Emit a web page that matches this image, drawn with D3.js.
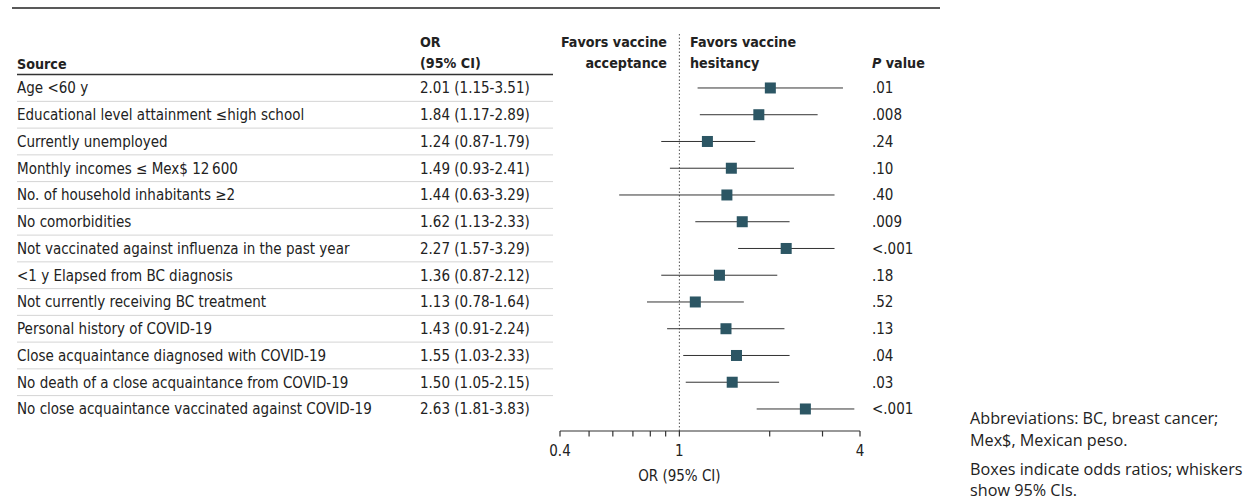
<!DOCTYPE html>
<html>
<head>
<meta charset="utf-8">
<script src="https://cdn.jsdelivr.net/npm/d3@7"></script>
<style>
  body { margin: 0; background: #fff; }
  svg text { font-family: "DejaVu Sans Condensed", "Liberation Sans Narrow", "Open Sans", sans-serif; font-stretch: condensed; fill: #222; }
  svg text.note { font-family: "Open Sans", sans-serif; font-stretch: normal; }
</style>
</head>
<body>
<div id="chart"></div>
<script>
// forest plot data
let sources = [
  "Age <60 y",
  "Educational level attainment \u2264high school",
  "Currently unemployed",
  "Monthly incomes \u2264 Mex$ 12\u2009600",
  "No. of household inhabitants \u22652",
  "No comorbidities",
  "Not vaccinated against influenza in the past year",
  "<1 y Elapsed from BC diagnosis",
  "Not currently receiving BC treatment",
  "Personal history of COVID-19",
  "Close acquaintance diagnosed with COVID-19",
  "No death of a close acquaintance from COVID-19",
  "No close acquaintance vaccinated against COVID-19"
];
let oddsRatios = [2.01, 1.84, 1.24, 1.49, 1.44, 1.62, 2.27, 1.36, 1.13, 1.43, 1.55, 1.50, 2.63];
let ciLow  = [1.15, 1.17, 0.87, 0.93, 0.63, 1.13, 1.57, 0.87, 0.78, 0.91, 1.03, 1.05, 1.81];
let ciHigh = [3.51, 2.89, 1.79, 2.41, 3.29, 2.33, 3.29, 2.12, 1.64, 2.24, 2.33, 2.15, 3.83];
let pValues = [".01", ".008", ".24", ".10", ".40", ".009", "<.001", ".18", ".52", ".13", ".04", ".03", "<.001"];
let majorTicks = [0.4, 1, 4];
let minorTicks = [0.5, 0.6, 0.7, 0.8, 0.9, 2, 3];
let footnotes = [
  "Abbreviations: BC, breast cancer;",
  "Mex$, Mexican peso.",
  "Boxes indicate odds ratios; whiskers",
  "show 95% CIs."
];

let rows = sources.map(function(s, i) {
  return {source: s, or: oddsRatios[i], lo: ciLow[i], hi: ciHigh[i], p: pValues[i]};
});

let width = 1252, height = 501;
let svg = d3.select("#chart").append("svg")
  .attr("width", width)
  .attr("height", height);

let x = d3.scaleLog().domain([0.4, 4]).range([560, 860]);
let y = d3.scaleBand().domain(d3.range(rows.length)).range([74.6, 74.6 + 26.75 * rows.length]);
let fmt = d3.format(".2f");
let fs = 15;

// top rule
svg.append("line")
  .attr("x1", 12).attr("x2", 940).attr("y1", 8).attr("y2", 8)
  .attr("stroke", "#222").attr("stroke-width", 1.5);

// column headers
let hdr = svg.append("g").attr("font-weight", "bold").attr("font-size", 14.2);
hdr.append("text").attr("x", 17).attr("y", 69).text("Source");
hdr.append("text").attr("x", 420).attr("y", 47).text("OR");
hdr.append("text").attr("x", 420).attr("y", 68).text("(95% CI)");
hdr.append("text").attr("x", 667).attr("y", 47).attr("text-anchor", "end").text("Favors vaccine");
hdr.append("text").attr("x", 667).attr("y", 68).attr("text-anchor", "end").text("acceptance");
hdr.append("text").attr("x", 690).attr("y", 47).text("Favors vaccine");
hdr.append("text").attr("x", 690).attr("y", 68).text("hesitancy");
let pv = hdr.append("text").attr("x", 872).attr("y", 68);
pv.append("tspan").attr("font-style", "italic").text("P");
pv.append("tspan").text(" value");

svg.append("line")
  .attr("x1", 17).attr("x2", 553).attr("y1", 74.6).attr("y2", 74.6)
  .attr("stroke", "#333").attr("stroke-width", 1.5);

// row separators
svg.append("g").selectAll("line")
  .data(d3.range(1, rows.length))
  .join("line")
    .attr("x1", 17).attr("x2", 553)
    .attr("y1", function(i) { return y(i); })
    .attr("y2", function(i) { return y(i); })
    .attr("stroke", "#d4d4d4").attr("stroke-width", 1);

// row text
let rowG = svg.append("g").attr("font-size", fs);
rowG.selectAll(".src")
  .data(rows)
  .join("text")
    .attr("x", 17)
    .attr("y", function(d, i) { return y(i) + y.bandwidth() / 2 + 5.5; })
    .text(function(d) { return d.source; });
rowG.selectAll(".ci")
  .data(rows)
  .join("text")
    .attr("x", 420)
    .attr("y", function(d, i) { return y(i) + y.bandwidth() / 2 + 5.5; })
    .text(function(d) { return fmt(d.or) + " (" + fmt(d.lo) + "-" + fmt(d.hi) + ")"; });
rowG.selectAll(".pv")
  .data(rows)
  .join("text")
    .attr("x", 872)
    .attr("y", function(d, i) { return y(i) + y.bandwidth() / 2 + 5.5; })
    .text(function(d) { return d.p; });

// null line
svg.append("line")
  .attr("x1", x(1)).attr("x2", x(1)).attr("y1", 34).attr("y2", 431)
  .attr("stroke", "#555").attr("stroke-width", 1).attr("stroke-dasharray", "1.5,2");

// whiskers and boxes
let marks = svg.append("g");
marks.selectAll(".whisker")
  .data(rows)
  .join("line")
    .attr("x1", function(d) { return x(d.lo); })
    .attr("x2", function(d) { return x(d.hi); })
    .attr("y1", function(d, i) { return y(i) + y.bandwidth() / 2; })
    .attr("y2", function(d, i) { return y(i) + y.bandwidth() / 2; })
    .attr("stroke", "#333").attr("stroke-width", 1);
marks.selectAll(".box")
  .data(rows)
  .join("rect")
    .attr("x", function(d) { return x(d.or) - 5.5; })
    .attr("y", function(d, i) { return y(i) + y.bandwidth() / 2 - 5.5; })
    .attr("width", 11).attr("height", 11)
    .attr("fill", "#2c5664");

// x axis
let axisY = 431;
let ax = svg.append("g");
ax.append("line")
  .attr("x1", x(0.4)).attr("x2", x(4)).attr("y1", axisY).attr("y2", axisY)
  .attr("stroke", "#333").attr("stroke-width", 1.2);
ax.selectAll(".tick")
  .data(majorTicks.concat(minorTicks))
  .join("line")
    .attr("x1", function(d) { return x(d); })
    .attr("x2", function(d) { return x(d); })
    .attr("y1", axisY).attr("y2", axisY + 5.5)
    .attr("stroke", "#333").attr("stroke-width", 1.2);
ax.selectAll(".lbl")
  .data(majorTicks)
  .join("text")
    .attr("x", function(d) { return x(d); })
    .attr("y", axisY + 25)
    .attr("text-anchor", "middle")
    .attr("font-size", fs)
    .text(function(d) { return d; });
ax.append("text")
  .attr("x", x(1)).attr("y", 481)
  .attr("text-anchor", "middle").attr("font-size", fs)
  .text("OR (95% CI)");

// footnote
let noteY = [424, 446, 475, 496];
svg.append("g").attr("font-size", 16.2)
  .selectAll("text")
  .data(footnotes)
  .join("text")
    .attr("class", "note")
    .attr("x", 970)
    .attr("y", function(d, i) { return noteY[i]; })
    .text(function(d) { return d; });
</script>
</body>
</html>
